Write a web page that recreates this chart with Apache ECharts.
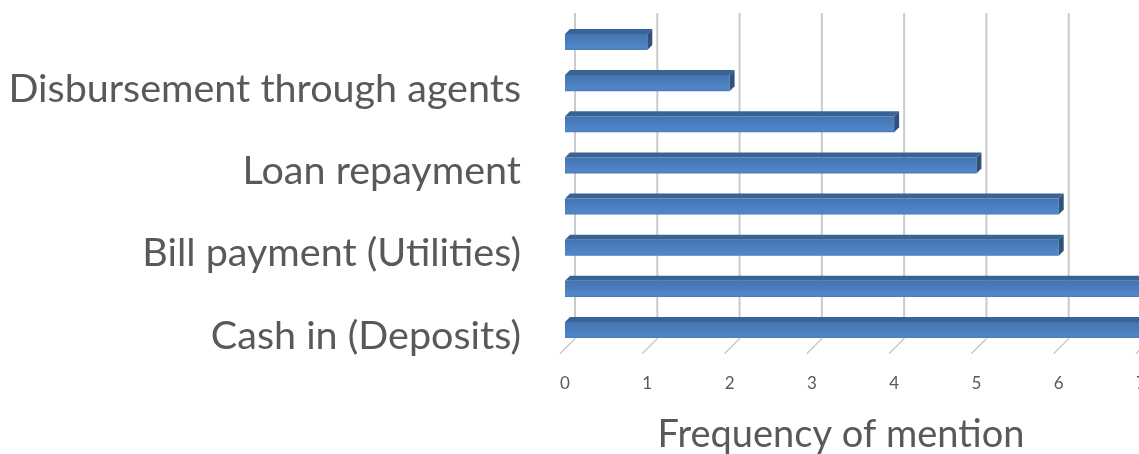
<!DOCTYPE html>
<html>
<head>
<meta charset="utf-8">
<title>Frequency of mention</title>
<script src="https://cdn.jsdelivr.net/npm/echarts@6/dist/echarts.min.js"></script>
<style>
  html, body { margin: 0; padding: 0; background: #ffffff; }
  #chart { width: 1139px; height: 454px; }
</style>
</head>
<body>
<div id="chart"></div>
<script>
// Categories listed bottom to top; unlabelled rows keep an empty name.
const categories = [
  'Cash in (Deposits)',
  '',
  'Bill payment (Utilities)',
  '',
  'Loan repayment',
  '',
  'Disbursement through agents',
  ''
];
const mentions = [7, 7, 6, 6, 5, 4, 2, 1];
const xTicks = [0, 1, 2, 3, 4, 5, 6, 7];
const axisTitle = 'Frequency of mention';

const FONT = 'Lato';
const DEPTH = 5;          // bar depth offset (px)
const WALL = 10;          // back wall offset from bar front plane (px)
const FRONT_H = 0.39;     // front face height as share of category band

const chart = echarts.init(document.getElementById('chart'), null, { renderer: 'canvas' });

function renderBar(params, api) {
  const val = api.value(0);
  const idx = api.value(1);
  const p0 = api.coord([0, idx]);
  const p1 = api.coord([val, idx]);
  const band = api.size([0, 1])[1];
  const h = band * FRONT_H;
  const x0 = p0[0], x1 = p1[0], c = p0[1];
  const top = c - h / 2, bot = c + h / 2;
  return {
    type: 'group',
    children: [
      {
        type: 'polygon',
        shape: { points: [[x0, top], [x0 + DEPTH, top - DEPTH], [x1 + DEPTH, top - DEPTH], [x1, top]] },
        style: { fill: '#3a6395' }
      },
      {
        type: 'rect',
        shape: { x: x0, y: top, width: x1 - x0, height: h },
        style: {
          fill: new echarts.graphic.LinearGradient(0, 0, 0, 1, [
            { offset: 0, color: '#4575b0' },
            { offset: 0.55, color: '#4b7fc0' },
            { offset: 0.85, color: '#5187c8' },
            { offset: 1, color: '#4a7cba' }
          ])
        }
      },
      {
        type: 'polygon',
        shape: { points: [[x1, top], [x1 + DEPTH, top - DEPTH], [x1 + DEPTH, bot - DEPTH], [x1, bot]] },
        style: { fill: '#2d5280' }
      }
    ]
  };
}

function renderWall(params, api) {
  const v = api.value(0);
  const cs = params.coordSys;
  const x = api.coord([v, 0])[0];
  const yTop = cs.y - 8.5;
  const yBot = cs.y + cs.height - 12;
  return {
    type: 'group',
    children: [
      {
        type: 'line',
        shape: { x1: x + WALL, y1: yTop, x2: x + WALL, y2: yBot },
        style: { stroke: '#cacaca', lineWidth: 2 }
      },
      {
        type: 'line',
        shape: { x1: x + WALL, y1: yBot, x2: x - DEPTH, y2: yBot + WALL + DEPTH },
        style: { stroke: '#bdbdbd', lineWidth: 1.2 }
      }
    ]
  };
}

chart.setOption({
  animation: false,
  backgroundColor: '#ffffff',
  grid: {
    left: 565, right: -2, top: 21.4, bottom: 103.4,
    containLabel: false,
    outerBoundsMode: 'none'
  },
  xAxis: {
    type: 'value',
    min: 0,
    max: 7,
    interval: 1,
    axisLine: { show: false },
    axisTick: { show: false },
    splitLine: { show: false },
    axisLabel: {
      margin: 24,
      color: '#595959',
      fontFamily: FONT,
      fontSize: 17,
      showMaxLabel: true
    }
  },
  yAxis: {
    type: 'category',
    data: categories,
    axisLine: { show: false },
    axisTick: { show: false },
    axisLabel: {
      interval: 0,
      margin: 44,
      color: '#595959',
      fontFamily: FONT,
      fontSize: 39.5,
      verticalAlign: 'top',
      lineHeight: 12
    }
  },
  graphic: [
    {
      type: 'text',
      x: 841,
      y: 435,
      style: {
        text: axisTitle,
        fill: '#595959',
        font: '38px ' + FONT,
        textAlign: 'center',
        textVerticalAlign: 'middle'
      }
    }
  ],
  series: [
    {
      type: 'custom',
      name: 'wall',
      z: 1,
      silent: true,
      renderItem: renderWall,
      encode: { x: 0 },
      data: xTicks.map(v => [v, 0])
    },
    {
      type: 'custom',
      name: 'Frequency of mention',
      z: 2,
      renderItem: renderBar,
      encode: { x: 0, y: 1 },
      data: mentions.map((v, i) => [v, i])
    }
  ]
});
</script>
</body>
</html>
